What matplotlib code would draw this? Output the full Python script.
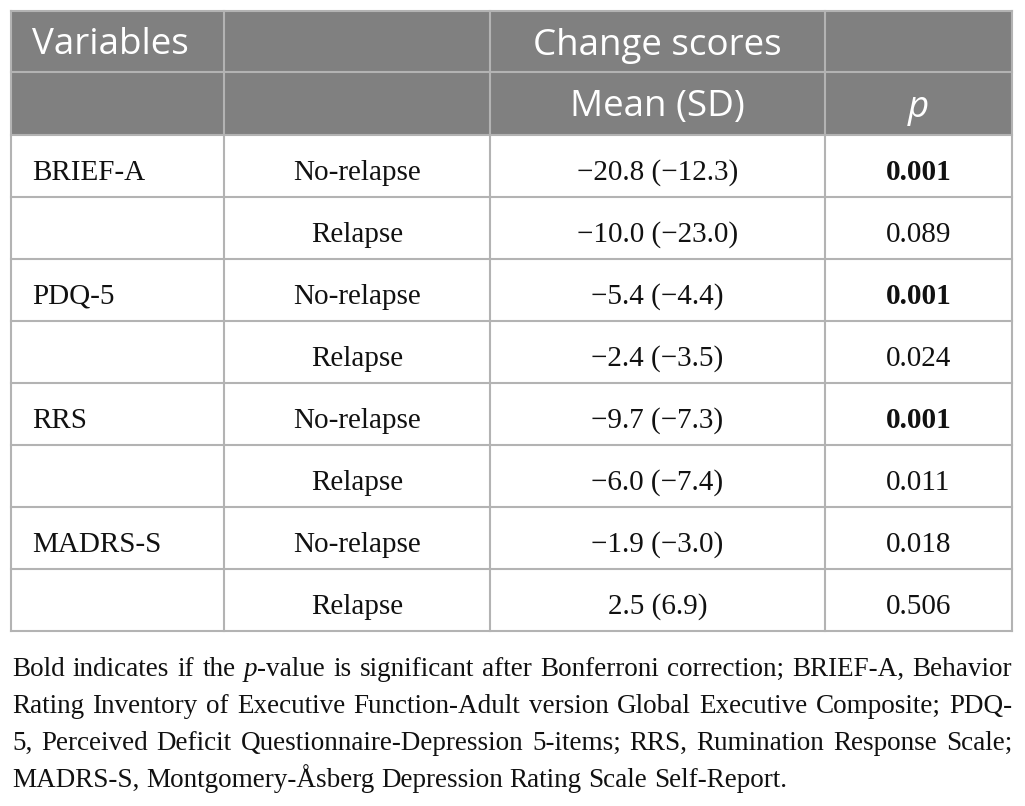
import matplotlib.pyplot as plt
from matplotlib.patches import Rectangle

header1 = ["Variables", "", "Change scores", ""]
header2 = ["", "", "Mean (SD)", "p"]
variables = ["BRIEF-A", "", "PDQ-5", "", "RRS", "", "MADRS-S", ""]
groups = ["No-relapse", "Relapse"] * 4
mean_sd = ["\u221220.8 (\u221212.3)", "\u221210.0 (\u221223.0)",
           "\u22125.4 (\u22124.4)", "\u22122.4 (\u22123.5)",
           "\u22129.7 (\u22127.3)", "\u22126.0 (\u22127.4)",
           "\u22121.9 (\u22123.0)", "2.5 (6.9)"]
p_values = ["0.001", "0.089", "0.001", "0.024", "0.001", "0.011", "0.018", "0.506"]
significant = [True, False, True, False, True, False, False, False]

# caption lines; *...* marks italic
caption = [
    "Bold indicates if the *p*-value is significant after Bonferroni correction; BRIEF-A, Behavior",
    "Rating Inventory of Executive Function-Adult version Global Executive Composite; PDQ-",
    "5, Perceived Deficit Questionnaire-Depression 5-items; RRS, Rumination Response Scale;",
    "MADRS-S, Montgomery-\u00c5sberg Depression Rating Scale Self-Report.",
]

W, H = 1025, 806
fig = plt.figure(figsize=(W / 100, H / 100), dpi=100)
ax = fig.add_axes([0, 0, 1, 1])
ax.set_xlim(0, W)
ax.set_ylim(H, 0)
ax.axis("off")

col_x = [11, 224, 490, 825, 1012]
top = 11
head_h = [61, 63]
row_h = 62
grid_c = "#b3b3b3"
head_c = "#808080"
text_c = "#111111"
serif = "Liberation Serif"
sans = "Open Sans"

# header background
ax.add_patch(Rectangle((col_x[0], top), col_x[-1] - col_x[0], sum(head_h),
                       facecolor=head_c, edgecolor="none", zorder=1))

row_tops = [top, top + head_h[0]]
y = top + sum(head_h)
for i in range(len(groups) + 1):
    row_tops.append(y)
    y += row_h
bottom = row_tops[-1]

# grid lines
for yy in row_tops:
    ax.plot([col_x[0], col_x[-1]], [yy, yy], color=grid_c, lw=1.5, zorder=2,
            solid_capstyle="projecting")
for xx in col_x:
    ax.plot([xx, xx], [top, bottom], color=grid_c, lw=1.5, zorder=2,
            solid_capstyle="projecting")


def cell_x(c):
    if c == 0:
        return col_x[0] + 21, "left"
    return (col_x[c] + col_x[c + 1]) / 2, "center"


# header text
for r, hdr in enumerate([header1, header2]):
    base = row_tops[r] + head_h[r] / 2 + 13
    for c, txt in enumerate(hdr):
        if not txt:
            continue
        x, ha = cell_x(c)
        ax.text(x, base, txt, ha=ha, va="baseline", color="white",
                fontsize=26.5, family=sans,
                style="italic" if txt == "p" else "normal", zorder=3)

# body
for i in range(len(groups)):
    base = row_tops[2 + i] + row_h / 2 + 13.5
    cells = [variables[i], groups[i], mean_sd[i], p_values[i]]
    for c, txt in enumerate(cells):
        if not txt:
            continue
        x, ha = cell_x(c)
        ax.text(x, base, txt, ha=ha, va="baseline", color=text_c,
                fontsize=21, family=serif,
                weight="bold" if (c == 3 and significant[i]) else "normal",
                zorder=3)

# caption, justified
fig.canvas.draw()
renderer = fig.canvas.get_renderer()
cap_left, cap_right = 12, 1012
cap_size = 19.5


def pieces(word):
    out = []
    parts = word.split("*")
    for k, p in enumerate(parts):
        if p:
            out.append((p, k % 2 == 1))
    return out


def width_of(txt, italic):
    t = ax.text(0, 0, txt, fontsize=cap_size, family=serif,
                style="italic" if italic else "normal")
    w = t.get_window_extent(renderer).width
    t.remove()
    return w


space_w = 0.25 * cap_size * 100 / 72
for li, line in enumerate(caption):
    base = 676 + li * 37
    words = line.split(" ")
    widths = [[width_of(p, it) for p, it in pieces(w)] for w in words]
    total = sum(sum(w) for w in widths)
    if li < len(caption) - 1:
        gap = (cap_right - cap_left - total) / (len(words) - 1)
    else:
        gap = space_w
    x = cap_left
    for w, ws in zip(words, widths):
        for (p, it), pw in zip(pieces(w), ws):
            ax.text(x, base, p, ha="left", va="baseline", fontsize=cap_size,
                    family=serif, style="italic" if it else "normal",
                    color=text_c)
            x += pw
        x += gap

fig.savefig("out.png", dpi=100)
